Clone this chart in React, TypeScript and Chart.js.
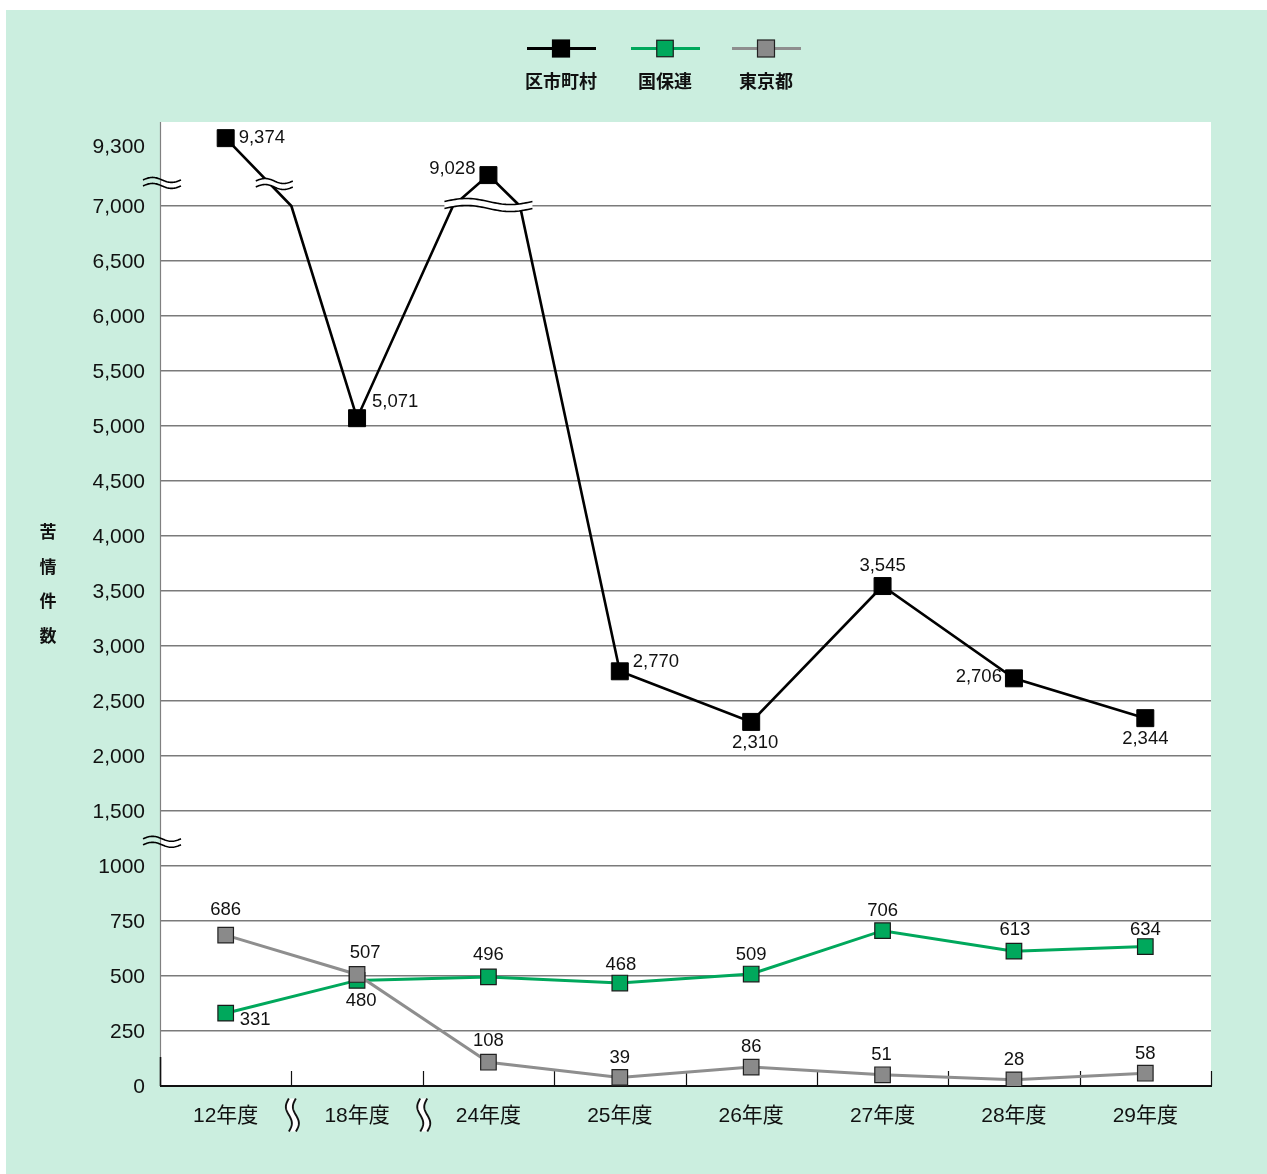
import { useEffect, useRef } from "react";
import { Chart, registerables } from "chart.js";

Chart.register(...registerables);

// ---------- data ----------
const categories = ["12年度", "18年度", "24年度", "25年度", "26年度", "27年度", "28年度", "29年度"];
const seriesNames = ["区市町村", "国保連", "東京都"];
const kushichoson = [9374, 5071, 9028, 2770, 2310, 3545, 2706, 2344];
const kokuhoren = [331, 480, 496, 468, 509, 706, 613, 634];
const tokyoto = [686, 507, 108, 39, 86, 51, 28, 58];
const yTickValues = [0, 250, 500, 750, 1000, 1500, 2000, 2500, 3000, 3500, 4000, 4500, 5000, 5500, 6000, 6500, 7000, 9300];
const yTickLabels = ["0", "250", "500", "750", "1000", "1,500", "2,000", "2,500", "3,000", "3,500", "4,000", "4,500", "5,000", "5,500", "6,000", "6,500", "7,000", "9,300"];
const yTitle = "苦情件数";
// category positions where the 区市町村 line passes the 7,000 axis break
const breakCrossings = [0.5, 1.73, 2.24];
const BREAK_VALUE = 7000;

// ---------- layout (label placement: dx, dy, align) ----------
type Off = [number, number, CanvasTextAlign];
const kushiLabelOffsets: Off[] = [
  [13, 0, "left"], [15, -16, "left"], [-13, -6, "right"], [13, -9, "left"],
  [4, 21, "center"], [0, -20, "center"], [-12, -1, "right"], [0, 21, "center"],
];
const kokuLabelOffsets: Off[] = [
  [14, 7, "left"], [4, 21, "center"], [0, -22, "center"], [1, -18, "center"],
  [0, -19, "center"], [0, -20, "center"], [1, -21, "center"], [0, -17, "center"],
];
const tokyoLabelOffsets: Off[] = [
  [0, -25, "center"], [8, -22, "center"], [0, -21, "center"], [0, -20, "center"],
  [0, -20, "center"], [-1, -20, "center"], [0, -20, "center"], [0, -19, "center"],
];

const COLORS = {
  black: "#000000",
  green: "#00a85c",
  greenLine: "#00a85c",
  gray: "#8a8a8a",
  grayLine: "#8e8e8e",
  bg: "#cbeedf",
};

const FONT = "'Liberation Sans', Arial, 'Noto Sans CJK JP', sans-serif";
const CJK = "'Noto Sans CJK JP', sans-serif";

// piecewise (broken) axis transform
function toAxis(v: number): number {
  if (v <= 1000) return v / 250;
  if (v <= 7000) return 4 + (v - 1000) / 500;
  return 17.09 + (v - 9300) / 515;
}

export default function App() {
  const ref = useRef<HTMLCanvasElement>(null);

  useEffect(() => {
    const canvas = ref.current;
    if (!canvas) return;

    const kushiPoints: { x: number; y: number; idx: number }[] = [];
    kushichoson.forEach((v, i) => {
      kushiPoints.push({ x: i, y: toAxis(v), idx: i });
      breakCrossings
        .filter((c) => c > i && c < i + 1)
        .forEach((c) => kushiPoints.push({ x: c, y: toAxis(BREAK_VALUE), idx: -1 }));
    });
    const kokuPoints = kokuhoren.map((v, i) => ({ x: i, y: toAxis(v), idx: i }));
    const tokyoPoints = tokyoto.map((v, i) => ({ x: i, y: toAxis(v), idx: i }));

    const hWave = (ctx: CanvasRenderingContext2D, cx: number, cy: number, w: number, amp: number, gap: number, fill: boolean) => {
      const N = 40;
      const pts = (off: number) => {
        const a: [number, number][] = [];
        for (let k = 0; k <= N; k++) {
          const t = k / N;
          a.push([cx - w / 2 + t * w, cy + off - amp * Math.sin(2 * Math.PI * t)]);
        }
        return a;
      };
      const top = pts(-gap / 2);
      const bot = pts(gap / 2);
      if (fill) {
        ctx.beginPath();
        top.forEach(([x, y], k) => (k ? ctx.lineTo(x, y) : ctx.moveTo(x, y)));
        for (let k = bot.length - 1; k >= 0; k--) ctx.lineTo(bot[k][0], bot[k][1]);
        ctx.closePath();
        ctx.fillStyle = "#ffffff";
        ctx.fill();
      }
      ctx.strokeStyle = "#000";
      ctx.lineWidth = 1.6;
      [top, bot].forEach((arr) => {
        ctx.beginPath();
        arr.forEach(([x, y], k) => (k ? ctx.lineTo(x, y) : ctx.moveTo(x, y)));
        ctx.stroke();
      });
    };

    const vWave = (ctx: CanvasRenderingContext2D, cx: number, cy: number, h: number, amp: number, gap: number) => {
      const N = 40;
      const pts = (off: number) => {
        const a: [number, number][] = [];
        for (let k = 0; k <= N; k++) {
          const t = k / N;
          a.push([cx + off - amp * Math.sin(2 * Math.PI * t), cy - h / 2 + t * h]);
        }
        return a;
      };
      const l = pts(-gap / 2);
      const r = pts(gap / 2);
      ctx.beginPath();
      l.forEach(([x, y], k) => (k ? ctx.lineTo(x, y) : ctx.moveTo(x, y)));
      for (let k = r.length - 1; k >= 0; k--) ctx.lineTo(r[k][0], r[k][1]);
      ctx.closePath();
      ctx.fillStyle = "#ffffff";
      ctx.fill();
      ctx.strokeStyle = "#111";
      ctx.lineWidth = 1.9;
      [l, r].forEach((arr) => {
        ctx.beginPath();
        arr.forEach(([x, y], k) => (k ? ctx.lineTo(x, y) : ctx.moveTo(x, y)));
        ctx.stroke();
      });
    };

    const deco = {
      id: "deco",
      beforeDraw(chart: any) {
        const { ctx, chartArea: a } = chart;
        ctx.save();
        ctx.fillStyle = "#ffffff";
        ctx.fillRect(a.left, a.top, a.right - a.left, a.bottom - a.top);
        ctx.restore();
      },
      beforeDatasetsDraw(chart: any) {
        const { ctx, chartArea: a } = chart;
        const xs = chart.scales.x;
        ctx.save();
        // left axis (thin gray) + black stub
        ctx.strokeStyle = "#808080";
        ctx.lineWidth = 1.2;
        ctx.beginPath();
        ctx.moveTo(a.left + 0.5, a.top);
        ctx.lineTo(a.left + 0.5, a.bottom);
        ctx.stroke();
        ctx.strokeStyle = "#111";
        ctx.lineWidth = 1.6;
        ctx.beginPath();
        ctx.moveTo(a.left + 0.5, a.bottom - 29);
        ctx.lineTo(a.left + 0.5, a.bottom);
        ctx.stroke();
        // bottom axis
        ctx.strokeStyle = "#111";
        ctx.lineWidth = 2;
        ctx.beginPath();
        ctx.moveTo(a.left, a.bottom);
        ctx.lineTo(a.right + 1, a.bottom);
        ctx.stroke();
        // inward tick marks at category boundaries
        ctx.lineWidth = 1.2;
        for (let i = 0; i < categories.length; i++) {
          const x = Math.round(xs.getPixelForValue(i + 0.5)) + 0.5;
          ctx.beginPath();
          ctx.moveTo(x, a.bottom);
          ctx.lineTo(x, a.bottom - 15);
          ctx.stroke();
        }
        ctx.restore();
      },
      afterDatasetsDraw(chart: any) {
        const { ctx, chartArea: a } = chart;
        const xs = chart.scales.x;
        const ys = chart.scales.y;
        ctx.save();
        // break marks on the lines
        hWave(ctx, xs.getPixelForValue(0.37), ys.getPixelForValue(16.4), 37, 2.5, 6, true);
        hWave(ctx, xs.getPixelForValue(2), ys.getPixelForValue(toAxis(BREAK_VALUE)) - 1, 88, 3, 7, true);
        // break marks on the y axis
        hWave(ctx, a.left + 2, ys.getPixelForValue(16.42), 38, 2.5, 6, false);
        hWave(ctx, a.left + 2, ys.getPixelForValue(4.44), 38, 2.5, 6, false);

        // value labels
        ctx.font = `18.5px ${FONT}`;
        ctx.fillStyle = "#111";
        ctx.textBaseline = "middle";
        const sets: [number, number[], Off[]][] = [
          [0, kushichoson, kushiLabelOffsets],
          [1, tokyoto, tokyoLabelOffsets],
          [2, kokuhoren, kokuLabelOffsets],
        ];
        sets.forEach(([di, values, offs]) => {
          const meta = chart.getDatasetMeta(di);
          const raw = chart.data.datasets[di].data as any[];
          meta.data.forEach((el: any, k: number) => {
            const idx = raw[k].idx;
            if (idx < 0) return;
            const [dx, dy, align] = offs[idx];
            ctx.textAlign = align;
            ctx.fillText(values[idx].toLocaleString("en-US"), el.x + dx, el.y + dy);
          });
        });
        ctx.restore();
      },
      afterDraw(chart: any) {
        const { ctx, chartArea: a } = chart;
        const xs = chart.scales.x;
        ctx.save();
        // wavy marks between the skipped years
        vWave(ctx, xs.getPixelForValue(0.5) + 1, a.bottom + 29, 33, 3, 7);
        vWave(ctx, xs.getPixelForValue(1.5) + 1, a.bottom + 29, 33, 3, 7);

        // y title, stacked vertically
        ctx.font = `bold 17px ${CJK}`;
        ctx.fillStyle = "#111";
        ctx.textAlign = "center";
        ctx.textBaseline = "middle";
        Array.from(yTitle).forEach((ch, i) => ctx.fillText(ch, 42, 522 + i * 34.5));

        // legend
        const items = [
          { name: seriesNames[0], fill: COLORS.black, line: COLORS.black, border: "#000", cx: 555, side: 17 },
          { name: seriesNames[1], fill: COLORS.green, line: COLORS.greenLine, border: "#1a1a1a", cx: 659, side: 16.5 },
          { name: seriesNames[2], fill: COLORS.gray, line: COLORS.grayLine, border: "#222", cx: 760, side: 17 },
        ];
        items.forEach((it) => {
          ctx.strokeStyle = it.line;
          ctx.lineWidth = 3;
          ctx.beginPath();
          ctx.moveTo(it.cx - 34, 38.5);
          ctx.lineTo(it.cx + 35, 38.5);
          ctx.stroke();
          ctx.fillStyle = it.fill;
          ctx.fillRect(it.cx - it.side / 2, 38.5 - it.side / 2, it.side, it.side);
          ctx.strokeStyle = it.border;
          ctx.lineWidth = 1.2;
          ctx.strokeRect(it.cx - it.side / 2, 38.5 - it.side / 2, it.side, it.side);
          ctx.fillStyle = "#111";
          ctx.font = `bold 18px ${CJK}`;
          ctx.textAlign = "center";
          ctx.textBaseline = "middle";
          ctx.fillText(it.name, it.cx, 71);
        });
        ctx.restore();
      },
    };

    const chart = new Chart(canvas, {
      type: "line",
      data: {
        datasets: [
          {
            label: seriesNames[0],
            data: kushiPoints as any,
            borderColor: COLORS.black,
            borderWidth: 2.6,
            tension: 0,
            pointStyle: "rect",
            pointRadius: kushiPoints.map((p) => (p.idx < 0 ? 0 : 12)),
            pointBackgroundColor: COLORS.black,
            pointBorderColor: "#000",
            pointBorderWidth: 1,
            order: 0,
          },
          {
            label: seriesNames[2],
            data: tokyoPoints as any,
            borderColor: COLORS.grayLine,
            borderWidth: 3,
            tension: 0,
            pointStyle: "rect",
            pointRadius: 11,
            pointBackgroundColor: COLORS.gray,
            pointBorderColor: "#222",
            pointBorderWidth: 1.2,
            order: 1,
          },
          {
            label: seriesNames[1],
            data: kokuPoints as any,
            borderColor: COLORS.greenLine,
            borderWidth: 3,
            tension: 0,
            pointStyle: "rect",
            pointRadius: 11,
            pointBackgroundColor: COLORS.green,
            pointBorderColor: "#1a1a1a",
            pointBorderWidth: 1.2,
            order: 2,
          },
        ],
      },
      options: {
        responsive: false,
        animation: false,
        events: [],
        layout: { padding: { top: 112, right: 56, left: 0, bottom: 0 } },
        plugins: {
          legend: { display: false },
          tooltip: { enabled: false },
          title: { display: false },
        },
        scales: {
          x: {
            type: "linear",
            min: -0.5,
            max: 7.5,
            afterBuildTicks: (s: any) => {
              s.ticks = categories.map((_, i) => ({ value: i }));
            },
            afterFit: (s: any) => {
              s.height = 88;
            },
            ticks: {
              autoSkip: false,
              maxRotation: 0,
              padding: 18,
              color: "#111",
              font: { family: FONT, size: 21 },
              callback: (_v: any, i: number) => categories[i] ?? "",
            },
            grid: { display: false, drawTicks: false },
            border: { display: false },
          },
          y: {
            type: "linear",
            min: 0,
            max: 964 / 55,
            afterBuildTicks: (s: any) => {
              s.ticks = yTickValues.map((v) => ({ value: toAxis(v) }));
            },
            afterFit: (s: any) => {
              s.width = 154;
            },
            ticks: {
              autoSkip: false,
              padding: 15,
              labelOffset: 1.5,
              color: "#111",
              font: { family: FONT, size: 21 },
              callback: (_v: any, i: number) => yTickLabels[i] ?? "",
            },
            grid: {
              drawTicks: false,
              lineWidth: 1.4,
              color: (c: any) =>
                c.index === 0 || c.index === yTickValues.length - 1 ? "rgba(0,0,0,0)" : "#7a7a7a",
            },
            border: { display: false },
          },
        },
      },
      plugins: [deco],
    });

    return () => chart.destroy();
  }, []);

  return (
    <div
      style={{
        position: "absolute",
        left: 6,
        top: 10,
        width: 1261,
        height: 1164,
        background: COLORS.bg,
        overflow: "hidden",
      }}
    >
      <canvas ref={ref} width={1261} height={1164} style={{ display: "block" }} />
    </div>
  );
}
